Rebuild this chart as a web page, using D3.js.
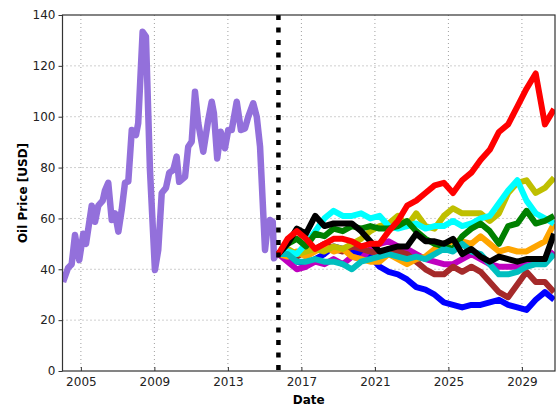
<!DOCTYPE html>
<html>
<head>
<meta charset="utf-8">
<script src="https://cdn.jsdelivr.net/npm/d3@7"></script>
<style>
  body { margin: 0; background: #fff; }
  text { font-family: "DejaVu Sans", sans-serif; }
</style>
</head>
<body>
<div id="chart"></div>
<script>
// historical oil price (purple)
var histYears = [2004.03, 2004.3, 2004.5, 2004.68, 2004.91, 2005.13, 2005.28, 2005.59, 2005.77, 2005.95,
  2006.19, 2006.31, 2006.49, 2006.68, 2006.86, 2007.04, 2007.22, 2007.4, 2007.58, 2007.77,
  2008.0, 2008.12, 2008.36, 2008.54, 2008.76, 2009.03, 2009.21, 2009.4, 2009.63, 2009.81,
  2010.03, 2010.21, 2010.35, 2010.67, 2010.84, 2011.03, 2011.21, 2011.39, 2011.66, 2011.93,
  2012.12, 2012.24, 2012.42, 2012.61, 2012.84, 2013.02, 2013.21, 2013.48, 2013.71, 2013.93,
  2014.11, 2014.38, 2014.57, 2014.75, 2015.02, 2015.14, 2015.29, 2015.44, 2015.51, 2015.62, 2015.75];
var histPrice = [35, 40.5, 42, 53.5, 43.6, 54, 50, 65, 58.7, 65,
  67, 71, 74, 59.4, 62, 54.8, 63.3, 74, 74.5, 94.8,
  92.8, 97.5, 133.4, 131.5, 79, 39.7, 47.6, 70, 72, 78,
  79, 84.3, 74.4, 76.4, 88.2, 90.2, 109.8, 97.4, 86.2, 98.7,
  105.9, 101.3, 83.6, 94.1, 87.6, 94.8, 94.8, 105.9, 94.8, 95.4,
  100, 105.3, 100, 88.2, 47.6, 55.4, 59.4, 58.7, 44.3, 46, 46];

// simulated paths after the cut-off date
var splitYear = 2015.75;
var simYears = [2015.75, 2016.25, 2016.75, 2017.25, 2017.75, 2018.25, 2018.75, 2019.25, 2019.75, 2020.25,
  2020.75, 2021.25, 2021.75, 2022.25, 2022.75, 2023.25, 2023.75, 2024.25, 2024.75, 2025.25,
  2025.75, 2026.25, 2026.75, 2027.25, 2027.75, 2028.25, 2028.75, 2029.25, 2029.75, 2030.25, 2030.75];

var simBlue = [46, 45, 43, 42, 44, 46, 49, 48, 47, 46, 45, 41, 39, 38, 36, 33, 32, 30, 27, 26, 25, 26, 26, 27, 28, 26, 25, 24, 28, 31, 28];
var simMagenta = [46, 43, 40, 41, 43, 42, 44, 42, 45, 44, 48, 50, 51, 49, 48, 46, 44, 43, 42, 42, 44, 46, 44, 42, 41, 41, 41, 42, 43, 43, 47];
var simBrown = [46, 47, 45, 47, 48, 50, 48, 47, 49, 48, 47, 46, 48, 47, 46, 43, 40, 38, 38, 41, 39, 41, 39, 35, 31, 29, 34, 39, 35, 35, 31];
var simOrange = [46, 45, 47, 45, 47, 49, 47, 48, 45, 44, 43, 43, 46, 44, 42, 44, 45, 48, 50, 51, 51, 50, 53, 50, 47, 48, 47, 47, 49, 51, 58];
var simYellow = [46, 48, 46, 47, 48, 47, 49, 48, 50, 52, 55, 57, 58, 61, 57, 62, 57, 56, 61, 64, 62, 62, 62, 59, 62, 70, 74, 75, 70, 72, 76];
var simCyan = [46, 47, 46, 50, 55, 60, 63, 61, 61, 62, 60, 61, 57, 56, 57, 58, 56, 57, 57, 59, 57, 58, 60, 61, 66, 71, 75, 67, 62, 60, 58];
var simGreen = [46, 50, 52, 49, 54, 53, 56, 55, 57, 56, 57, 56, 56, 57, 59, 55, 52, 50, 49, 48, 53, 56, 58, 55, 50, 57, 58, 63, 58, 59, 61];
var simTeal = [46, 46, 43, 43, 44, 43, 43, 42, 40, 43, 44, 45, 46, 45, 44, 45, 44, 46, 48, 47, 50, 47, 46, 42, 38, 38, 39, 41, 42, 42, 46];
var simBlack = [46, 50, 56, 54, 61, 57, 58, 58, 58, 55, 51, 47, 48, 49, 49, 54, 51, 51, 50, 52, 46, 48, 45, 43, 45, 44, 43, 44, 44, 44, 54];
var simRed = [46, 52, 55, 52, 48, 50, 52, 52, 51, 49, 50, 50, 55, 59, 65, 67, 70, 73, 74, 70, 75, 78, 83, 87, 94, 97, 104, 111, 117, 97, 103];

var simSeries = [
  { color: "#0000ff", values: simBlue },
  { color: "#bf00bf", values: simMagenta },
  { color: "#a52a2a", values: simBrown },
  { color: "#ffa500", values: simOrange },
  { color: "#bfbf00", values: simYellow },
  { color: "#00ffff", values: simCyan },
  { color: "#008000", values: simGreen },
  { color: "#00bfbf", values: simTeal },
  { color: "#000000", values: simBlack },
  { color: "#ff0000", values: simRed }
];

var xTicks = [2005, 2009, 2013, 2017, 2021, 2025, 2029];
var yTicks = [0, 20, 40, 60, 80, 100, 120, 140];

var svgWidth = 557;
var svgHeight = 407;
var margin = { top: 15, right: 2, bottom: 36, left: 62.5 };
var width = svgWidth - margin.left - margin.right;
var height = svgHeight - margin.top - margin.bottom;

var svg = d3.select("#chart")
  .append("svg")
  .attr("width", svgWidth)
  .attr("height", svgHeight);

var chartGroup = svg.append("g")
  .attr("transform", `translate(${margin.left}, ${margin.top})`);

var xScale = d3.scaleLinear().domain([2004.0, 2030.8]).range([0, width]);
var yScale = d3.scaleLinear().domain([0, 140]).range([height, 0]);

// dotted grid
chartGroup.append("g")
  .selectAll("line.gx")
  .data(xTicks)
  .enter()
  .append("line")
  .attr("x1", d => xScale(d)).attr("x2", d => xScale(d))
  .attr("y1", 0).attr("y2", height)
  .attr("stroke", "#888").attr("stroke-width", 0.8)
  .attr("stroke-dasharray", "1,3");

chartGroup.append("g")
  .selectAll("line.gy")
  .data(yTicks.slice(1, -1))
  .enter()
  .append("line")
  .attr("x1", 0).attr("x2", width)
  .attr("y1", d => yScale(d)).attr("y2", d => yScale(d))
  .attr("stroke", "#888").attr("stroke-width", 0.8)
  .attr("stroke-dasharray", "1,3");

chartGroup.append("clipPath").attr("id", "plotclip")
  .append("rect").attr("width", width).attr("height", height);

var plot = chartGroup.append("g").attr("clip-path", "url(#plotclip)");

var line = d3.line()
  .x(d => xScale(d[0]))
  .y(d => yScale(d[1]));

plot.append("path")
  .datum(histYears.map((y, i) => [y, histPrice[i]]))
  .attr("d", line)
  .attr("fill", "none")
  .attr("stroke", "#9370db")
  .attr("stroke-width", 6.5)
  .attr("stroke-linejoin", "round");

simSeries.forEach(function(s) {
  plot.append("path")
    .datum(simYears.map((y, i) => [y, s.values[i]]))
    .attr("d", line)
    .attr("fill", "none")
    .attr("stroke", s.color)
    .attr("stroke-width", 6)
    .attr("stroke-linejoin", "round");
});

// cut-off marker
chartGroup.append("line")
  .attr("x1", xScale(splitYear)).attr("x2", xScale(splitYear))
  .attr("y1", 0).attr("y2", height)
  .attr("stroke", "#000")
  .attr("stroke-width", 4.5)
  .attr("stroke-dasharray", "5,7.5");

// axes
var bottomAxis = d3.axisBottom(xScale).tickValues(xTicks).tickFormat(d3.format("d")).tickSizeInner(-4).tickSizeOuter(0).tickPadding(6);
var leftAxis = d3.axisLeft(yScale).tickValues(yTicks).tickSizeInner(4).tickSizeOuter(0).tickPadding(3);

var xg = chartGroup.append("g")
  .attr("transform", `translate(0, ${height})`)
  .call(bottomAxis);
var yg = chartGroup.append("g").call(leftAxis);

[xg, yg].forEach(function(g) {
  g.select(".domain").remove();
  g.selectAll("text").attr("font-size", "12px").attr("fill", "#222")
    .style("font-family", "DejaVu Sans, sans-serif");
  g.selectAll("line").attr("stroke", "#333");
});

chartGroup.append("rect")
  .attr("width", width).attr("height", height)
  .attr("fill", "none").attr("stroke", "#333").attr("stroke-width", 1.2);

// axis labels
chartGroup.append("text")
  .attr("x", width / 2)
  .attr("y", height + 33)
  .attr("text-anchor", "middle")
  .attr("font-size", "12px")
  .attr("font-weight", "bold")
  .text("Date");

chartGroup.append("text")
  .attr("transform", "rotate(-90)")
  .attr("x", -height / 2)
  .attr("y", -36)
  .attr("text-anchor", "middle")
  .attr("font-size", "12px")
  .attr("font-weight", "bold")
  .text("Oil Price [USD]");
</script>
</body>
</html>
